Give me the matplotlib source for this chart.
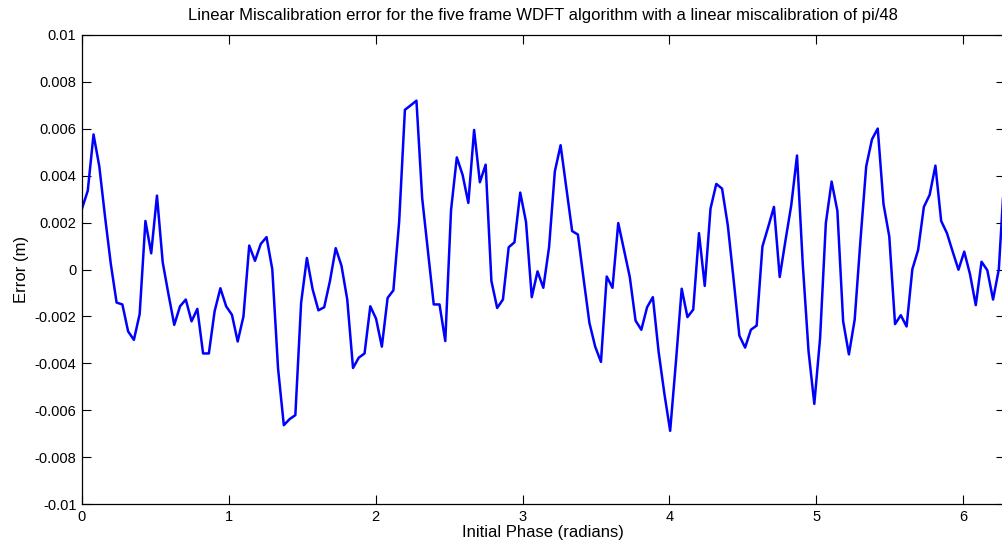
import numpy as np
import matplotlib.pyplot as plt

plt.rcParams['font.family'] = ['Liberation Sans', 'DejaVu Sans']

# error values in units of 1e-3 m
err_milli = [
    2.60, 3.36, 5.76, 4.40, 2.24, 0.23, -1.41, -1.49, -2.64, -3.00,
    -1.90, 2.07, 0.69, 3.15, 0.30, -1.06, -2.36, -1.57, -1.28, -2.21,
    -1.68, -3.58, -3.58, -1.78, -0.80, -1.57, -1.93,
    -3.07, -2.00, 1.02, 0.37, 1.09, 1.38, 0.01, -4.22, -6.64, -6.38,
    -6.21, -1.42, 0.49, -0.85, -1.74, -1.61, -0.49, 0.91, 0.16, -1.28,
    -4.20, -3.76, -3.58, -1.57, -2.10, -3.29, -1.21,
    -0.89, 2.03, 6.81, 7.00, 7.20, 3.03, 0.78, -1.49, -1.49, -3.05,
    2.53, 4.78, 4.04, 2.84, 5.95, 3.72, 4.47, -0.49, -1.64, -1.28,
    0.95, 1.16, 3.28, 2.03, -1.18, -0.08,
    -0.78, 0.95, 4.18, 5.30, 3.46, 1.64, 1.49, -0.42, -2.28, -3.29,
    -3.94, -0.30, -0.78, 1.98, 0.83, -0.32, -2.18, -2.57, -1.61, -1.18,
    -3.51, -5.30, -6.88, -3.94, -0.82, -2.03,
    -1.71, 1.55, -0.70, 2.60, 3.65, 3.45, 1.88, -0.42, -2.82, -3.33,
    -2.57, -2.39, 0.98, 1.81, 2.67, -0.32, 1.24, 2.74, 4.86, 0.22,
    -3.49, -5.73, -2.93, 1.98, 3.75, 2.50, -2.21,
    -3.62, -2.14, 1.24, 4.40, 5.55, 6.01, 2.79, 1.41, -2.33, -1.95,
    -2.43, 0.01, 0.83, 2.67, 3.18, 4.43, 2.07, 1.55, 0.76, -0.01,
    0.76, -0.20, -1.52, 0.33, -0.03, -1.28, 0.01, 4.20,
]
error = np.array(err_milli) * 1e-3
phase = np.linspace(0, 2 * np.pi, len(error))

y_ticks = [-0.01, -0.008, -0.006, -0.004, -0.002, 0, 0.002, 0.004, 0.006, 0.008, 0.01]
y_labels = ['-0.01', '-0.008', '-0.006', '-0.004', '-0.002', '0',
            '0.002', '0.004', '0.006', '0.008', '0.01']
x_ticks = [0, 1, 2, 3, 4, 5, 6]

fig = plt.figure(figsize=(10.03, 5.47), dpi=100)
ax = fig.add_axes([82 / 1003, 1 - 504 / 547, (1004.6 - 82) / 1003, (504 - 35) / 547])

ax.plot(phase, error, color='#0000ff', linewidth=1.8)

ax.set_xlim(0, 2 * np.pi)
ax.set_ylim(-0.01, 0.01)
ax.set_xticks(x_ticks)
ax.set_yticks(y_ticks)
ax.set_yticklabels(y_labels)
ax.tick_params(direction='in', length=6.5, width=0.8, top=True, right=True,
               labelsize=10.5, pad=4)
for s in ax.spines.values():
    s.set_linewidth(0.9)

ax.set_title('Linear Miscalibration error for the five frame WDFT algorithm with a linear miscalibration of pi/48',
             fontsize=12, pad=11)
ax.set_xlabel('Initial Phase (radians)', fontsize=12, labelpad=1)
ax.set_ylabel('Error (m)', fontsize=12, labelpad=4)

fig.savefig('out.png', dpi=100)
